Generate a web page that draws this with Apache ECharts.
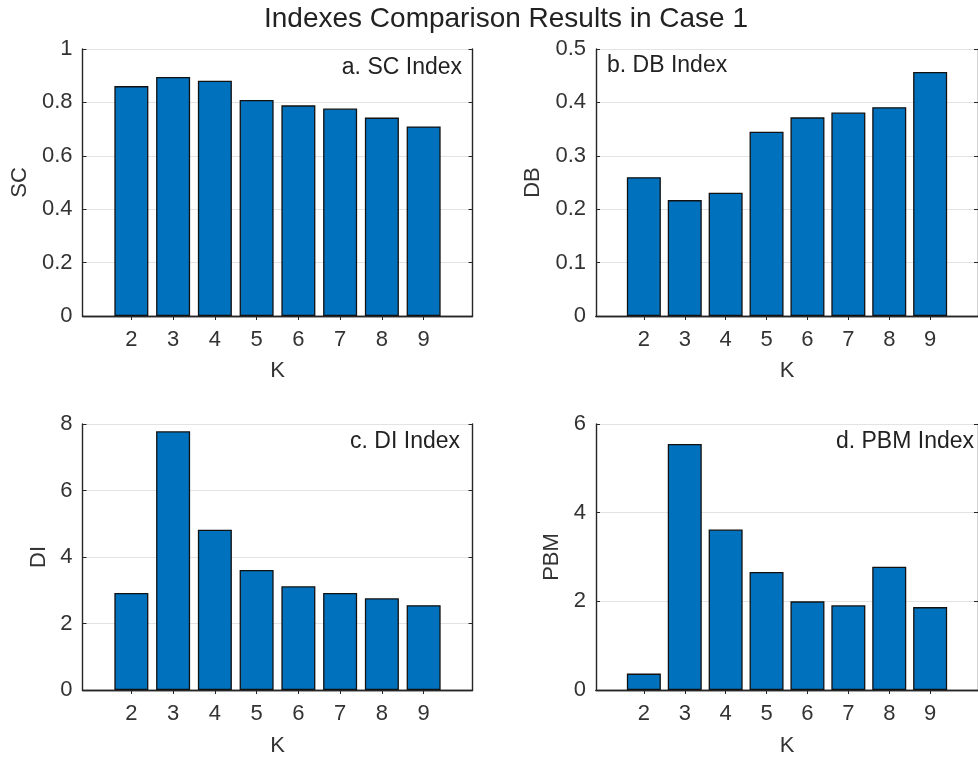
<!DOCTYPE html>
<html>
<head>
<meta charset="utf-8">
<script src="https://cdn.jsdelivr.net/npm/echarts@6/dist/echarts.min.js"></script>
<style>html,body{margin:0;padding:0;background:#fff;}#c{width:978px;height:758px;}</style>
</head>
<body>
<div id="c"></div>
<script>
// ---- data ----
const kValues = [2, 3, 4, 5, 6, 7, 8, 9];
const scValues = [0.861, 0.895, 0.881, 0.809, 0.789, 0.777, 0.743, 0.710];
const dbValues = [0.260, 0.217, 0.231, 0.345, 0.372, 0.381, 0.391, 0.457];
const diValues = [2.92, 7.78, 4.82, 3.61, 3.12, 2.92, 2.76, 2.55];
const pbmValues = [0.37, 5.55, 3.62, 2.66, 2.00, 1.91, 2.78, 1.87];
const panelNames = ['SC', 'DB', 'DI', 'PBM'];
const panelLabels = ['a. SC Index', 'b. DB Index', 'c. DI Index', 'd. PBM Index'];
const yMax = [1, 0.5, 8, 6];
const yStep = [0.2, 0.1, 2, 2];
const titleText = 'Indexes Comparison Results in Case 1';
const xName = 'K';

// ---- layout ----
const FONT = 'Liberation Sans, Arial, Helvetica, sans-serif';
const TXT = '#333333';
const LINE = '#262626';
const grids = [
  {left: 82.5, top: 49, width: 390, height: 267},
  {left: 596, top: 49, width: 390, height: 267},
  {left: 82.5, top: 424, width: 390, height: 267},
  {left: 596, top: 424, width: 390, height: 267}
];
const yNameGap = [52, 52, 33, 33];
const xNameGap = [44, 44, 45, 45];
const allValues = [scValues, dbValues, diValues, pbmValues];

const xAxes = [], yAxes = [], series = [];
grids.forEach((g, i) => {
  const common = {
    type: 'value', min: 0.83, max: 10.17, gridIndex: i,
    axisLine: {show: true, lineStyle: {color: LINE, width: 1.4}},
    splitLine: {show: false}
  };
  xAxes.push(Object.assign({}, common, {
    position: 'bottom',
    name: xName, nameLocation: 'middle', nameGap: xNameGap[i],
    nameTextStyle: {fontFamily: FONT, fontSize: 22, color: TXT},
    axisTick: {show: true, inside: true, length: 4, customValues: kValues, lineStyle: {color: LINE}},
    axisLabel: {show: true, customValues: kValues, margin: 13, fontFamily: FONT, fontSize: 22, color: TXT}
  }));
  xAxes.push(Object.assign({}, common, {
    position: 'top',
    axisTick: {show: true, inside: true, length: 4, customValues: kValues, lineStyle: {color: LINE}},
    axisLabel: {show: false, customValues: kValues}
  }));
  const ycommon = {
    type: 'value', min: 0, max: yMax[i], interval: yStep[i], gridIndex: i,
    axisLine: {show: true, lineStyle: {color: LINE, width: 1.4}},
    axisTick: {show: true, inside: true, length: 4, lineStyle: {color: LINE}}
  };
  yAxes.push(Object.assign({}, ycommon, {
    position: 'left',
    name: panelNames[i], nameLocation: 'middle', nameGap: yNameGap[i],
    nameTextStyle: {fontFamily: FONT, fontSize: 22, color: TXT},
    axisLabel: {show: true, margin: 10, fontFamily: FONT, fontSize: 22, color: TXT},
    splitLine: {show: true, lineStyle: {color: '#e3e3e3', width: 1}}
  }));
  yAxes.push(Object.assign({}, ycommon, {
    position: 'right',
    axisLabel: {show: false},
    splitLine: {show: false}
  }));
  series.push({
    type: 'bar',
    xAxisIndex: 2 * i, yAxisIndex: 2 * i,
    barWidth: 34,
    data: kValues.map((k, j) => [k, allValues[i][j]]),
    itemStyle: {color: '#0072BD', borderColor: '#111', borderWidth: 1.3},
    emphasis: {disabled: true},
    z: 2
  });
});

const labelPos = [
  {x: 462, y: 68, align: 'right'},
  {x: 607, y: 66, align: 'left'},
  {x: 460, y: 442, align: 'right'},
  {x: 974, y: 442, align: 'right'}
];

const graphic = [{
  type: 'text', x: 506, y: 19,
  style: {text: titleText, fontFamily: FONT, fontSize: 28, fill: '#222', textAlign: 'center', textVerticalAlign: 'middle'}
}];
labelPos.forEach((p, i) => {
  graphic.push({
    type: 'text', x: p.x, y: p.y, z: 10,
    style: {text: panelLabels[i], fontFamily: FONT, fontSize: 23, fill: '#222', textAlign: p.align, textVerticalAlign: 'middle'}
  });
});

const chart = echarts.init(document.getElementById('c'), null, {renderer: 'canvas'});
chart.setOption({
  animation: false,
  backgroundColor: '#ffffff',
  grid: grids.map(g => Object.assign({containLabel: false}, g)),
  xAxis: xAxes,
  yAxis: yAxes,
  series: series,
  graphic: graphic
});
</script>
</body>
</html>
